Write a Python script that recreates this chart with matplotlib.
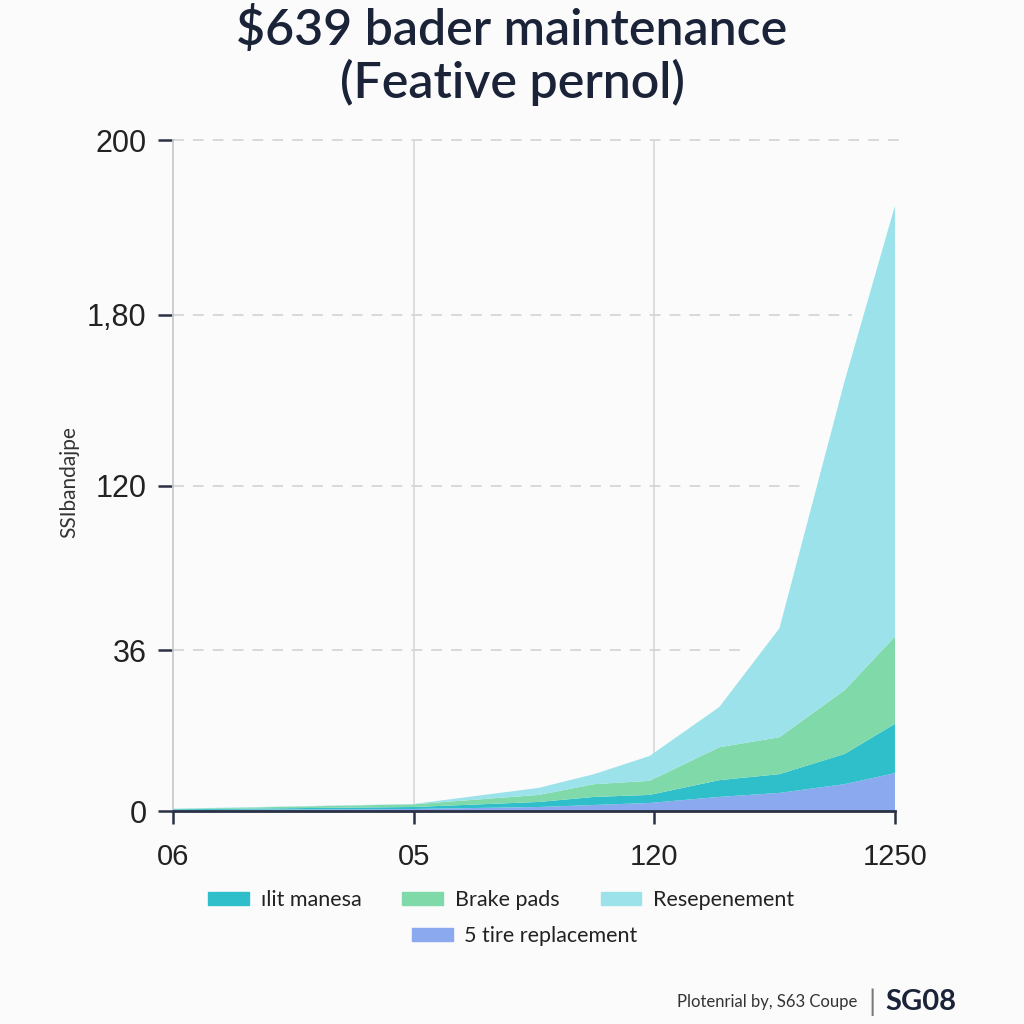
import matplotlib as mpl
import matplotlib.pyplot as plt
from matplotlib.patches import Patch

# data (x in tick units, y in axis units 0..200)
x_pos = [0, 1.0, 1.52, 1.75, 1.98, 2.27, 2.52, 2.79, 3.0]
tire = [0.3, 0.6, 1.2, 1.8, 2.4, 4.2, 5.4, 8, 11.3]
manesa = [0.2, 0.6, 1.5, 2.4, 2.4, 5.0, 5.6, 9, 14.7]
brake = [0.1, 0.8, 2.1, 3.8, 4.2, 9.8, 11, 19, 26]
resep = [0.1, 0.1, 2.1, 3.0, 7.4, 12, 32.5, 92, 128.5]

x_ticks = [0, 1, 2, 3]
x_labels = ["06", "05", "120", "1250"]
y_ticks = [0, 48, 97, 148, 200]
y_labels = ["0", "36", "120", "1,80", "200"]

c_tire = "#8aa9ef"
c_man = "#2fbfca"
c_brake = "#7fd9a9"
c_resep = "#9be2eb"
navy = "#1b2338"

mpl.rcParams['font.family'] = ['Lato', 'DejaVu Sans']

fig = plt.figure(figsize=(10.24, 10.24), dpi=100, facecolor="#fbfbfc")
ax = fig.add_axes([0.169, 0.208, 0.705, 0.655])
ax.set_facecolor("#fbfbfc")

ax.stackplot(x_pos, tire, manesa, brake, resep,
             colors=[c_tire, c_man, c_brake, c_resep], zorder=3)

ax.set_xlim(0, 3)
ax.set_ylim(0, 200)

# gridlines
for xv in [1, 2]:
    ax.axvline(xv, color="#d8d8dc", lw=1.2, zorder=1)
grid_ends = [None, 2.39, 2.64, 2.82, 3.04]
for yv, xe in zip(y_ticks[1:], grid_ends[1:]):
    ax.plot([0, xe], [yv, yv], ls=(0, (6, 5)), color="#d6d6da", lw=1.3,
            zorder=1, clip_on=False)

for s in ["top", "right"]:
    ax.spines[s].set_visible(False)
ax.spines["left"].set_color("#c9cbd1")
ax.spines["left"].set_linewidth(1.3)
ax.spines["bottom"].set_color("#2a3145")
ax.spines["bottom"].set_linewidth(2)
ax.spines["bottom"].set_zorder(5)

ax.set_xticks(x_ticks)
ax.set_xticklabels(x_labels, fontsize=21, color="#222222",
                   family=["Liberation Sans", "DejaVu Sans"])
ax.set_yticks(y_ticks)
ax.set_yticklabels(y_labels, fontsize=22, color="#222222",
                   family=["Liberation Sans", "DejaVu Sans"])
ax.tick_params(axis="x", length=9, width=1.8, color="#2a3145", pad=14)
ax.tick_params(axis="y", length=11, width=1.8, color="#2a3145", pad=8)

ax.set_ylabel("SSIbandajpe", fontsize=15, color="#333333")
ax.yaxis.set_label_coords(-0.13, 0.49)

fig.text(0.5, 0.995, "$639 bader maintenance", ha="center", va="top",
         fontsize=36, color=navy, weight="semibold")
fig.text(0.5, 0.943, "(Feative pernol)", ha="center", va="top",
         fontsize=36, color=navy, weight="semibold")

leg_kw = dict(loc="upper left", frameon=False, fontsize=15.5,
              handlelength=1.9, handleheight=0.55, columnspacing=1.9,
              handletextpad=0.55, labelcolor="#222222", borderpad=0,
              borderaxespad=0)
fig.legend([Patch(color=c_man), Patch(color=c_brake), Patch(color=c_resep)],
           ["ılit manesa", "Brake pads", "Resepenement"], ncol=3,
           bbox_to_anchor=(0.203, 0.131), **leg_kw)
fig.legend([Patch(color=c_tire)], ["5 tire replacement"],
           bbox_to_anchor=(0.402, 0.096), **leg_kw)

fig.text(0.837, 0.021, "Plotenrial by, S63 Coupe", ha="right", va="center",
         fontsize=12, color="#333333")
fig.text(0.852, 0.021, "|", ha="center", va="center", fontsize=21,
         color="#777777")
fig.text(0.865, 0.021, "SG08", ha="left", va="center", fontsize=21,
         color=navy, weight="bold")

fig.savefig("out.png", dpi=100, facecolor=fig.get_facecolor())
